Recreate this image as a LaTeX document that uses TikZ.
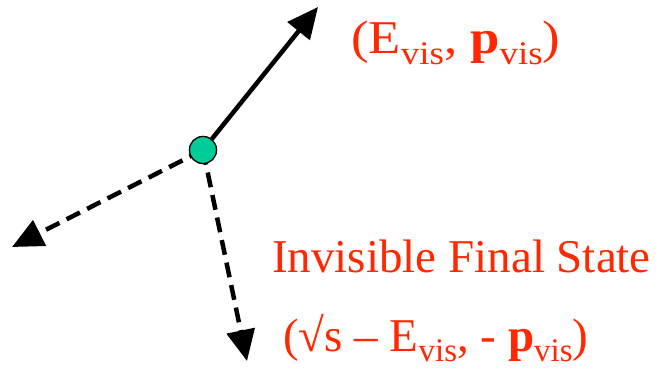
\documentclass[tikz,border=0pt]{standalone}
\usepackage{fontspec}
\setmainfont{Liberation Serif}
\usetikzlibrary{arrows.meta,positioning}
\definecolor{labelred}{RGB}{255,40,0}
\definecolor{vertexgreen}{RGB}{0,204,153}
\newcommand{\vis}{\raisebox{-10pt}{\fontsize{33}{33}\selectfont vis}}

\begin{document}
\begin{tikzpicture}[
x=1pt, y=-1pt,
vertex/.style={circle, draw, line width=1.2pt, fill=vertexgreen, minimum size=27pt, inner sep=0pt},
arrow/.style={-{Triangle[length=31pt,width=28pt]}, line width=4.5pt},
dasharrow/.style={arrow, dash pattern=on 15pt off 8pt},
label/.style={text=labelred, font=\fontsize{47}{50}\selectfont, inner sep=0pt}
]
\useasboundingbox (0,0) rectangle (661,369);
\coordinate (visible) at (318,7);
\coordinate (lost1) at (12,247);
\coordinate (lost2) at (247,361);
\node[vertex] (v) at (203,150) {};
\draw[arrow] (v) -- (visible);
\draw[dasharrow] (v.center) -- (lost1);
\draw[dasharrow] (v.center) -- (lost2);
\node[vertex] at (v) {};
\node[label, anchor=base west] (vislabel) at (351,54) {\scalebox{1.12}[1]{(E\vis, \textbf{p}\vis)}};
\node[label, anchor=base west] (invlabel) at (272,272) {Invisible Final State};
\node[label, anchor=base west] (misslabel) at (283,351) {(√s – E\vis, - \textbf{p}\vis)};
\end{tikzpicture}
\end{document}
